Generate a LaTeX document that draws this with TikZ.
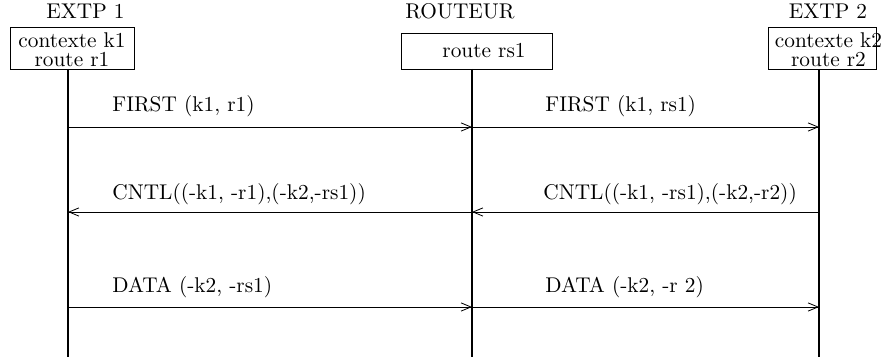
\documentclass[tikz,border=0pt]{standalone}
\usepackage{tikz}
\usetikzlibrary{arrows.meta}

\begin{document}
\begin{tikzpicture}[
  x=0.4878pt, y=-0.4878pt,
  every node/.style={font=\fontsize{10.4pt}{12.5pt}\selectfont},
  boite/.style={draw, inner sep=0pt, minimum height=20.5pt},
  titre/.style={anchor=base, inner sep=0pt},
  contenu/.style={align=center, inner sep=0pt},
  vie/.style={line width=1pt},
  msg/.style={-{Straight Barb[length=4.8pt, width=4pt]}},
  etiq/.style={anchor=base west, inner sep=0pt}
]
\useasboundingbox (0,0) rectangle (882,357);

% entites
\node[titre] (n1) at (85.5,18.3) {EXTP 1};
\node[titre] (n2) at (460,18.3) {ROUTEUR};
\node[titre] (n3) at (828,18.3) {EXTP 2};

\node[boite, minimum width=60.5pt] (b1) at (72,48) {};
\node[boite, minimum width=73.7pt, minimum height=17.6pt] (b2) at (476.5,51) {};
\node[boite, minimum width=52.7pt] (b3) at (822,48) {};

\node[contenu] (c1) at (72,50) {contexte k1\\[-3.4pt]route r1};
\node[contenu] (c2) at (484,51) {route rs1};
\node[contenu] (c3) at (828.5,50) {contexte k2\\[-3.4pt]route r2};

% lignes de vie
\foreach \i/\x in {1/68, 2/472, 3/819} {
  \coordinate (h\i) at (\x,69);
  \coordinate (v\i) at (\x,357);
  \draw[vie] (h\i) -- (v\i);
}

% messages
\foreach \n/\y in {1/127, 2/212, 3/307} {
  \coordinate (g\n) at (68,\y);
  \coordinate (m\n) at (472,\y);
  \coordinate (d\n) at (819,\y);
}
\draw[msg] (g1) -- (m1);
\draw[msg] (m1) -- (d1);
\draw[msg] (m2) -- (g2);
\draw[msg] (d2) -- (m2);
\draw[msg] (g3) -- (m3);
\draw[msg] (m3) -- (d3);

\node[etiq] (t1) at (112,111.7) {FIRST (k1, r1)};
\node[etiq] (t2) at (545,111.7) {FIRST (k1, rs1)};
\node[etiq] (t3) at (112,200) {CNTL((-k1, -r1),(-k2,-rs1))};
\node[etiq] (t4) at (543,200) {CNTL((-k1, -rs1),(-k2,-r2))};
\node[etiq] (t5) at (112,292.7) {DATA (-k2, -rs1)};
\node[etiq] (t6) at (545,292.7) {DATA (-k2, -r 2)};
\end{tikzpicture}
\end{document}
